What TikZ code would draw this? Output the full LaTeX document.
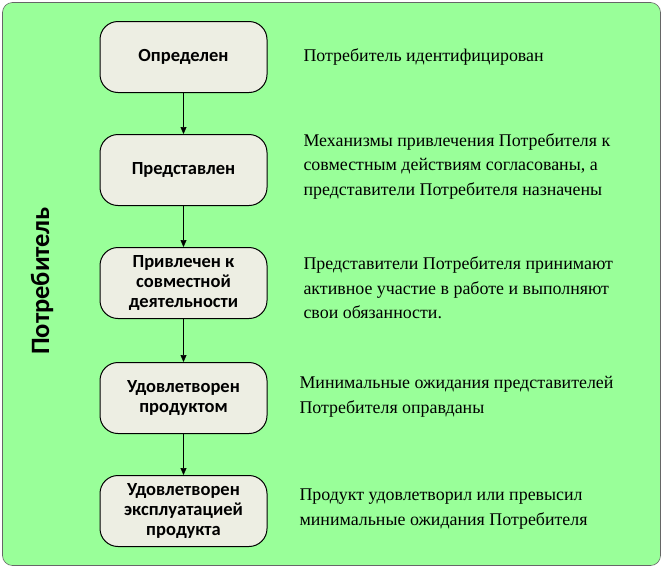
\documentclass[tikz,border=0pt]{standalone}
\usepackage{fontspec}
\setmainfont{Liberation Serif}
\newfontfamily\boxfont{Carlito}
\usetikzlibrary{arrows.meta}
\definecolor{bg}{HTML}{99FF99}
\definecolor{boxfill}{HTML}{EDEEE3}
\tikzset{
  stagebox/.style={draw=black, line width=1pt, fill=boxfill, rounded corners=18pt, minimum width=167pt, minimum height=71pt, align=center, font=\boxfont\bfseries\fontsize{18.5}{20}\selectfont},
  desc/.style={anchor=west, align=left, font=\fontsize{17.9}{24.5}\selectfont},
  conn/.style={-{Triangle[length=7pt,width=6pt]}, line width=0.6pt}
}
\begin{document}
\begin{tikzpicture}[x=1pt,y=-1pt]
\useasboundingbox (0,0) rectangle (663,568);
\node[draw=black!60, fill=bg, rounded corners=10pt, minimum width=658pt, minimum height=563pt, line width=0.6pt] (frame) at (331.5,284) {};
\node[rotate=90, font=\boxfont\bfseries\fontsize{26.5}{28}\selectfont] (lab) at (42,281) {Потребитель};
\node[stagebox] (b1) at (183.5,57) {Определен};
\node[stagebox] (b2) at (183.5,170) {Представлен};
\node[stagebox] (b3) at (183.5,283) {Привлечен к\\совместной\\деятельности};
\node[stagebox] (b4) at (183.5,398) {Удовлетворен\\продуктом};
\node[stagebox] (b5) at (183.5,511) {Удовлетворен\\эксплуатацией\\продукта};
\foreach \a/\b in {b1/b2,b2/b3,b3/b4,b4/b5} \draw[conn] (\a) -- (\b);
\node[desc] (d1) at (300,57) {Потребитель идентифицирован};
\node[desc] (d2) at (300,166) {Механизмы привлечения Потребителя к\\совместным действиям согласованы, а\\представители Потребителя назначены};
\node[desc] (d3) at (300,288) {Представители Потребителя принимают\\активное участие в работе и выполняют\\свои обязанности.};
\node[desc] (d4) at (296,397) {Минимальные ожидания представителей\\Потребителя оправданы};
\node[desc] (d5) at (296,509) {Продукт удовлетворил или превысил\\минимальные ожидания Потребителя};
\end{tikzpicture}
\end{document}
